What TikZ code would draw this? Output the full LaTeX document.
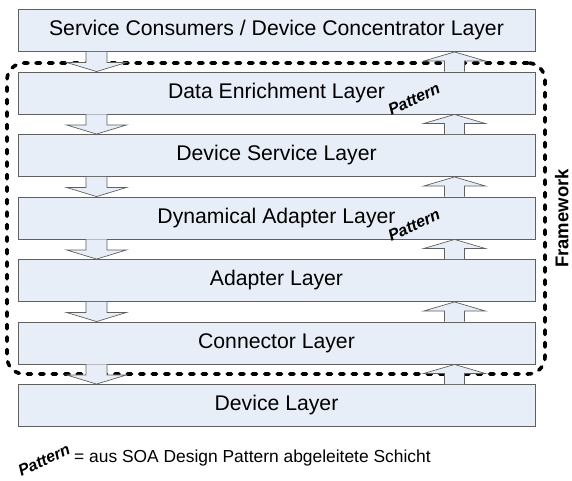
\documentclass[tikz,border=0pt]{standalone}
\usepackage{fontspec}
\setmainfont{Liberation Sans}
\usetikzlibrary{calc}
\definecolor{boxfill}{RGB}{232,238,247}
\definecolor{boxline}{RGB}{96,96,96}
\tikzset{
  layerbox/.style={draw=boxline, line width=0.9pt, fill=boxfill, minimum width=517pt, minimum height=42pt, inner sep=0pt, font=\fontsize{21.2}{24}\selectfont},
  arrbody/.style={draw=boxline, line width=0.7pt, fill=boxfill},
  frame/.style={draw=black, line width=3.6pt, dash pattern=on 4.5pt off 8pt, line cap=round, rounded corners=17pt, minimum width=538pt, minimum height=311pt, inner sep=0pt},
  patlabel/.style={font=\fontsize{16}{18}\selectfont\bfseries\itshape, inner sep=0pt, rotate=25},
  fwlabel/.style={font=\fontsize{18.5}{22}\selectfont\bfseries, inner sep=0pt, rotate=90},
  legendtext/.style={font=\fontsize{17.4}{20}\selectfont, inner sep=0pt, anchor=west}
}
\newcommand\mydown[2]{%
  \draw[arrbody] ($(#1.south west)+(68.5,0)$) -- ++(0,10.5) -- ++(-19.5,0) -- ($(#2.north west)+(79,0)$) -- ($(#1.south west)+(109,10.5)$) -- ++(-19.5,0) -- ++(0,-10.5);}
\newcommand\myup[2]{%
  \draw[arrbody] ($(#2.north west)+(427,0)$) -- ++(0,-10.5) -- ++(-21,0) -- ($(#1.south west)+(437,0)$) -- ($(#2.north west)+(468,-10.5)$) -- ++(-21,0) -- ++(0,10.5);}
\begin{document}
\begin{tikzpicture}[x=1pt,y=-1pt]
\useasboundingbox (0,0) rectangle (572,480);
% framework border
\node[frame] (fw) at (276,218.5) {};
% layers
\node[layerbox] (b1) at (276.5,30.5) {Service Consumers / Device Concentrator Layer};
\node[layerbox] (b2) at (276.5,93) {Data Enrichment Layer};
\node[layerbox] (b3) at (276.5,155.5) {Device Service Layer};
\node[layerbox] (b4) at (276.5,218) {Dynamical Adapter Layer};
\node[layerbox] (b5) at (276.5,280.5) {Adapter Layer};
\node[layerbox] (b6) at (276.5,343) {Connector Layer};
\node[layerbox] (b7) at (276.5,405.5) {Device Layer};
% arrows
\mydown{b1}{b2}\mydown{b2}{b3}\mydown{b3}{b4}\mydown{b4}{b5}\mydown{b5}{b6}\mydown{b6}{b7}
\myup{b1}{b2}\myup{b2}{b3}\myup{b3}{b4}\myup{b4}{b5}\myup{b5}{b6}\myup{b6}{b7}
% labels
\node[patlabel] (p1) at (414,99) {Pattern};
\node[patlabel] (p2) at (414,225) {Pattern};
\node[fwlabel] (fwl) at ([xshift=15pt]fw.east) {Framework};
% legend
\node[patlabel] (lp) at (44,460) {Pattern};
\node[legendtext] (lt) at (74,458) {= aus SOA Design Pattern abgeleitete Schicht};
\end{tikzpicture}
\end{document}
